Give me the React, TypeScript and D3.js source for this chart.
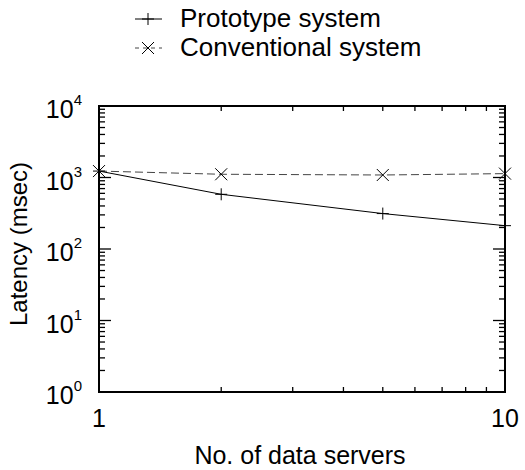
import React from 'react';
import * as d3 from 'd3';

// data
const servers = [1, 2, 5, 10];
const prototypeLatency = [1230, 582, 313, 212];
const conventionalLatency = [1230, 1110, 1084, 1133];
const seriesNames = ['Prototype system', 'Conventional system'];
const yDecades = [0, 1, 2, 3, 4];
const xLabels = [1, 10];

const W = 525;
const H = 470;
const margin = { top: 106, right: 20, bottom: 78, left: 99 };
const FONT = '"Liberation Sans", Arial, Helvetica, sans-serif';

const App = () => {
  const x = d3.scaleLog().domain([1, 10]).range([margin.left, W - margin.right]);
  const y = d3.scaleLog().domain([1, 10000]).range([H - margin.bottom, margin.top]);
  const [x0, x1] = x.range();
  const [y0, y1] = y.range();

  const line = d3
    .line<number>()
    .x((_, i) => x(servers[i]))
    .y((d) => y(d));

  // minor ticks on both axes
  const xMinor = d3.range(2, 10);
  const yMinor: number[] = [];
  for (let e = 0; e < 4; e++) {
    for (let m = 2; m < 10; m++) yMinor.push(m * Math.pow(10, e));
  }

  const plus = (cx: number, cy: number, s = 6) =>
    `M${cx - s},${cy}H${cx + s}M${cx},${cy - s}V${cy + s}`;
  const cross = (cx: number, cy: number, s = 6) =>
    `M${cx - s},${cy - s}L${cx + s},${cy + s}M${cx - s},${cy + s}L${cx + s},${cy - s}`;

  return (
    <svg
      width={W}
      height={H}
      style={{ position: 'absolute', left: 0, top: 0, background: '#fff' }}
      fontFamily={FONT}
    >
      {/* legend */}
      <g>
        <line x1={135} x2={162} y1={19} y2={19} stroke="#000" strokeWidth={1} />
        <path d={plus(148, 19)} stroke="#000" strokeWidth={1} />
        <text x={180} y={27} fontSize={26}>{seriesNames[0]}</text>
        <line x1={135} x2={162} y1={48} y2={48} stroke="#444" strokeWidth={1} strokeDasharray="4,4" />
        <path d={cross(148, 48)} stroke="#000" strokeWidth={1} />
        <text x={180} y={56} fontSize={26}>{seriesNames[1]}</text>
      </g>

      {/* ticks */}
      <g stroke="#000" strokeWidth={1.3}>
        {xMinor.map((v) => (
          <g key={'xm' + v}>
            <line x1={x(v)} x2={x(v)} y1={y0} y2={y0 - 5} />
            <line x1={x(v)} x2={x(v)} y1={y1} y2={y1 + 5} />
          </g>
        ))}
        {yMinor.map((v) => (
          <g key={'ym' + v}>
            <line x1={x0} x2={x0 + 6} y1={y(v)} y2={y(v)} />
            <line x1={x1} x2={x1 - 6} y1={y(v)} y2={y(v)} />
          </g>
        ))}
        {yDecades.map((d) => (
          <g key={'yM' + d}>
            <line x1={x0} x2={x0 + 12} y1={y(Math.pow(10, d))} y2={y(Math.pow(10, d))} />
            <line x1={x1} x2={x1 - 12} y1={y(Math.pow(10, d))} y2={y(Math.pow(10, d))} />
          </g>
        ))}
      </g>

      {/* series */}
      <path d={line(conventionalLatency) || ''} fill="none" stroke="#444" strokeWidth={1} strokeDasharray="8,4" />
      <path d={line(prototypeLatency) || ''} fill="none" stroke="#000" strokeWidth={1} />
      {prototypeLatency.map((v, i) => (
        <path key={'p' + i} d={plus(x(servers[i]), y(v))} stroke="#000" strokeWidth={1} />
      ))}
      {conventionalLatency.map((v, i) => (
        <path key={'c' + i} d={cross(x(servers[i]), y(v))} stroke="#000" strokeWidth={1} />
      ))}

      {/* frame */}
      <rect x={x0} y={y1} width={x1 - x0} height={y0 - y1} fill="none" stroke="#000" strokeWidth={2} />

      {/* y tick labels */}
      {yDecades.map((d) => (
        <text key={'yl' + d} x={x0 - 17} y={y(Math.pow(10, d)) + 12} fontSize={25} textAnchor="end">
          10
          <tspan fontSize={15} dy={-13}>{d}</tspan>
        </text>
      ))}

      {/* x tick labels */}
      {xLabels.map((v) => (
        <text key={'xl' + v} x={x(v)} y={427} fontSize={25} textAnchor="middle">
          {v}
        </text>
      ))}

      {/* axis titles */}
      <text x={300} y={464} fontSize={25} textAnchor="middle">
        No. of data servers
      </text>
      <text
        transform={`translate(27, 244) rotate(-90)`}
        fontSize={24}
        textAnchor="middle"
      >
        Latency (msec)
      </text>
    </svg>
  );
};

export default App;
